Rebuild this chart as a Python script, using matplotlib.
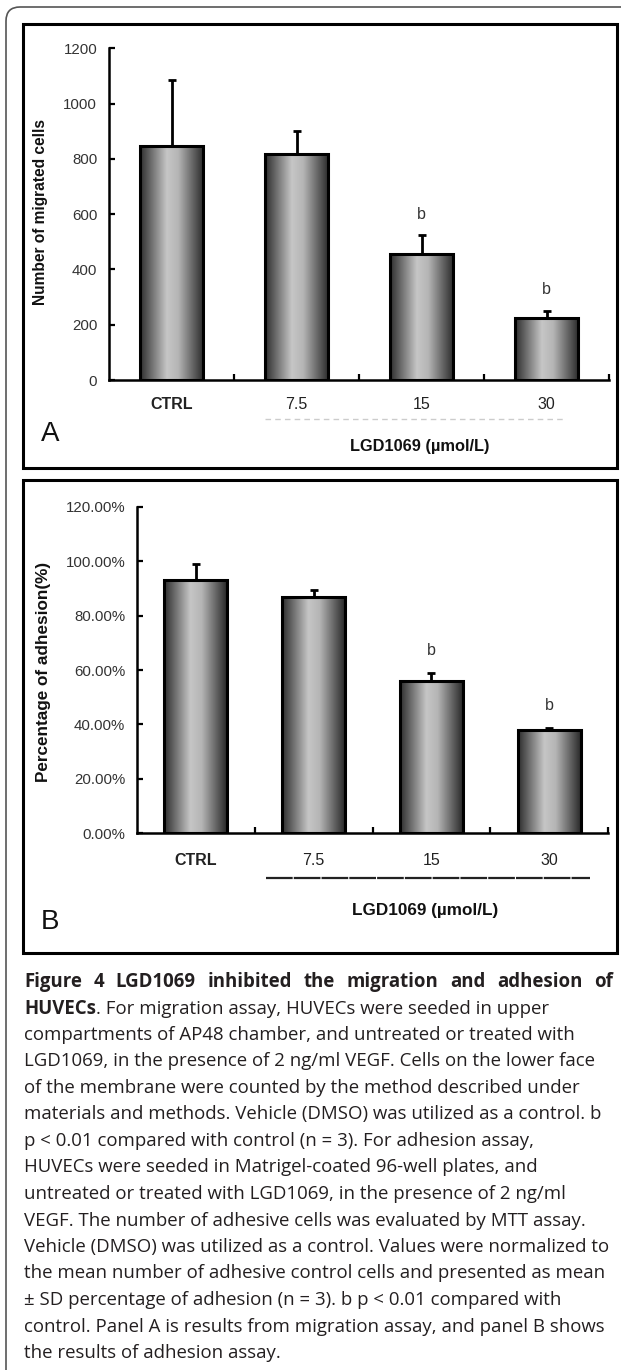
import numpy as np
import matplotlib
matplotlib.use("Agg")
from matplotlib import pyplot as plt
from matplotlib.colors import LinearSegmentedColormap
from matplotlib.patches import Rectangle, FancyBboxPatch
from matplotlib.lines import Line2D

plt.rcParams['font.family'] = ['Liberation Sans', 'DejaVu Sans']

# data
categories = ["CTRL", "7.5", "15", "30"]
migration_mean = [847, 817, 455, 224]
migration_sd = [237, 83, 70, 27]
adhesion_mean = [93.0, 86.8, 56.1, 38.1]
adhesion_sd = [5.8, 2.6, 2.8, 0.7]
sig_marks = ["", "", "b", "b"]

caption_lines = [
    "Figure 4 LGD1069 inhibited the migration and adhesion of",
    ". For migration assay, HUVECs were seeded in upper",
    "compartments of AP48 chamber, and untreated or treated with",
    "LGD1069, in the presence of 2 ng/ml VEGF. Cells on the lower face",
    "of the membrane were counted by the method described under",
    "materials and methods. Vehicle (DMSO) was utilized as a control. b",
    "p < 0.01 compared with control (n = 3). For adhesion assay,",
    "HUVECs were seeded in Matrigel-coated 96-well plates, and",
    "untreated or treated with LGD1069, in the presence of 2 ng/ml",
    "VEGF. The number of adhesive cells was evaluated by MTT assay.",
    "Vehicle (DMSO) was utilized as a control. Values were normalized to",
    "the mean number of adhesive control cells and presented as mean",
    "\u00b1 SD percentage of adhesion (n = 3). b p < 0.01 compared with",
    "control. Panel A is results from migration assay, and panel B shows",
    "the results of adhesion assay.",
]

W, H = 621, 1370
def fx(x):
    return x / W
def fy(y):
    return 1 - y / H

fig = plt.figure(figsize=(W / 100, H / 100), dpi=100)

# frames (inches via dpi_scale_trans)
outer = FancyBboxPatch((0.06, -0.3), 6.6, (1400 - 7) / 100,
                       boxstyle="round,pad=0,rounding_size=0.14",
                       transform=fig.dpi_scale_trans, fill=False,
                       edgecolor="#555555", lw=1.2)
fig.patches.append(outer)
for top, bot in [(24, 468), (480, 953)]:
    fig.patches.append(Rectangle((0.23, (H - bot) / 100), 5.94, (bot - top) / 100,
                                 transform=fig.dpi_scale_trans, fill=False,
                                 edgecolor="black", lw=2.2))

cmap = LinearSegmentedColormap.from_list(
    "cyl", [(0, "#2e2e2e"), (0.42, "#c6c6c6"), (0.6, "#b5b5b5"), (1, "#2a2a2a")])
grad = np.linspace(0, 1, 200).reshape(1, -1)


def bar_panel(ax, means, sds, width, ymax, b_off, xpad):
    x = np.arange(len(means))
    for xi, m in zip(x, means):
        ax.imshow(grad, extent=[xi - width / 2, xi + width / 2, 0, m],
                  aspect="auto", cmap=cmap, zorder=2)
    ax.bar(x, means, width=width, facecolor="none", edgecolor="black",
           lw=2.2, zorder=3)
    ax.errorbar(x, means, yerr=[np.zeros(len(sds)), sds], fmt="none",
                ecolor="black", elinewidth=2, capsize=2.6, capthick=2, zorder=1)
    for xi, m, s, lab in zip(x, means, sds, sig_marks):
        if lab:
            ax.annotate(lab, (xi, m + s), xytext=(0, b_off), textcoords="offset points",
                        ha="center", va="center", fontsize=11.5, color="#333333")
    ax.set_xlim(-0.5, 3.5)
    ax.set_ylim(0, ymax)
    ax.set_xticks(x)
    ax.set_xticklabels(categories)
    ax.get_xticklabels()[0].set_fontweight("bold")
    ax.set_xticks([0.5, 1.5, 2.5, 3.5], minor=True)
    ax.tick_params(axis="x", which="major", length=0, pad=xpad, labelsize=11.5,
                   labelcolor="#222222")
    ax.tick_params(axis="x", which="minor", direction="in", length=4, width=1.6)
    ax.tick_params(axis="y", direction="in", length=4, width=1.6, pad=8.5,
                   labelsize=10.8, labelcolor="#333333")
    for s in ["top", "right"]:
        ax.spines[s].set_visible(False)
    for s in ["left", "bottom"]:
        ax.spines[s].set_linewidth(1.8)
    ax.set_facecolor("none")


axA = fig.add_axes([fx(109), fy(380), 500 / W, 331.7 / H])
bar_panel(axA, migration_mean, migration_sd, 0.51, 1200, 15, 12.5)
axA.set_yticks(range(0, 1201, 200))

axB = fig.add_axes([fx(137), fy(833.3), 471 / W, 326.6 / H])
bar_panel(axB, adhesion_mean, adhesion_sd, 0.535, 120, 16, 14.5)
axB.set_yticks(range(0, 121, 20))
axB.set_yticklabels([f"{v:.2f}%" for v in range(0, 121, 20)])

fig.text(fx(40.5), fy(211.7), "Number of migrated cells", rotation=90,
         ha="center", va="center", fontsize=11.2, weight="bold", color="#111111")
fig.text(fx(44), fy(671.7), "Percentage of adhesion(%)", rotation=90,
         ha="center", va="center", fontsize=12.3, weight="bold", color="#111111")

fig.lines.append(Line2D([fx(265), fx(563)], [fy(419), fy(419)], transform=fig.transFigure,
                        color="#cccccc", lw=1, dashes=(4, 3)))
fig.lines.append(Line2D([fx(266), fx(590)], [fy(878), fy(878)], transform=fig.transFigure,
                        color="#222222", lw=1.6, dashes=(12, 0.5)))
fig.text(fx(420), fy(446), "LGD1069 (\u00b5mol/L)", ha="center", va="center",
         fontsize=11.8, weight="bold", color="#111111")
fig.text(fx(425), fy(910), "LGD1069 (\u00b5mol/L)", ha="center", va="center",
         fontsize=12.3, weight="bold", color="#111111")
fig.text(fx(50.5), fy(434), "A", ha="center", va="center", fontsize=20, color="#111111")
fig.text(fx(50), fy(922), "B", ha="center", va="center", fontsize=20, color="#111111")

# caption
cap_font = ["Open Sans", "DejaVu Sans"]
renderer = fig.canvas.get_renderer()
probe = fig.text(0, 0, caption_lines[10], fontsize=10, family=cap_font)
w10 = probe.get_window_extent(renderer).width
probe.remove()
cap_size = 10 * 585 / w10
cap_color = "#231f20"
y0, dy = 982, 26.5
for i, line in enumerate(caption_lines):
    y = fy(y0 + i * dy)
    if i == 0:
        # first line is justified across the column
        words = line.split()
        texts = [fig.text(0, y, w, ha="left", va="center", fontsize=cap_size,
                          family=cap_font, weight="bold", color=cap_color) for w in words]
        widths = [t.get_window_extent(renderer).width for t in texts]
        gap = (613 - 24 - sum(widths)) / (len(words) - 1)
        xpos = 24
        for t, w in zip(texts, widths):
            t.set_x(fx(xpos))
            xpos += w + gap
    elif i == 1:
        t = fig.text(fx(24), y, "HUVECs", ha="left", va="center", fontsize=cap_size,
                     family=cap_font, weight="bold", color=cap_color)
        x1 = t.get_window_extent(renderer).x1
        fig.text(x1 / fig.bbox.width, y, line, ha="left", va="center", fontsize=cap_size,
                 family=cap_font, color=cap_color)
    else:
        fig.text(fx(24), y, line, ha="left", va="center", fontsize=cap_size,
                 family=cap_font, color=cap_color)

fig.savefig("out.png", dpi=100)
